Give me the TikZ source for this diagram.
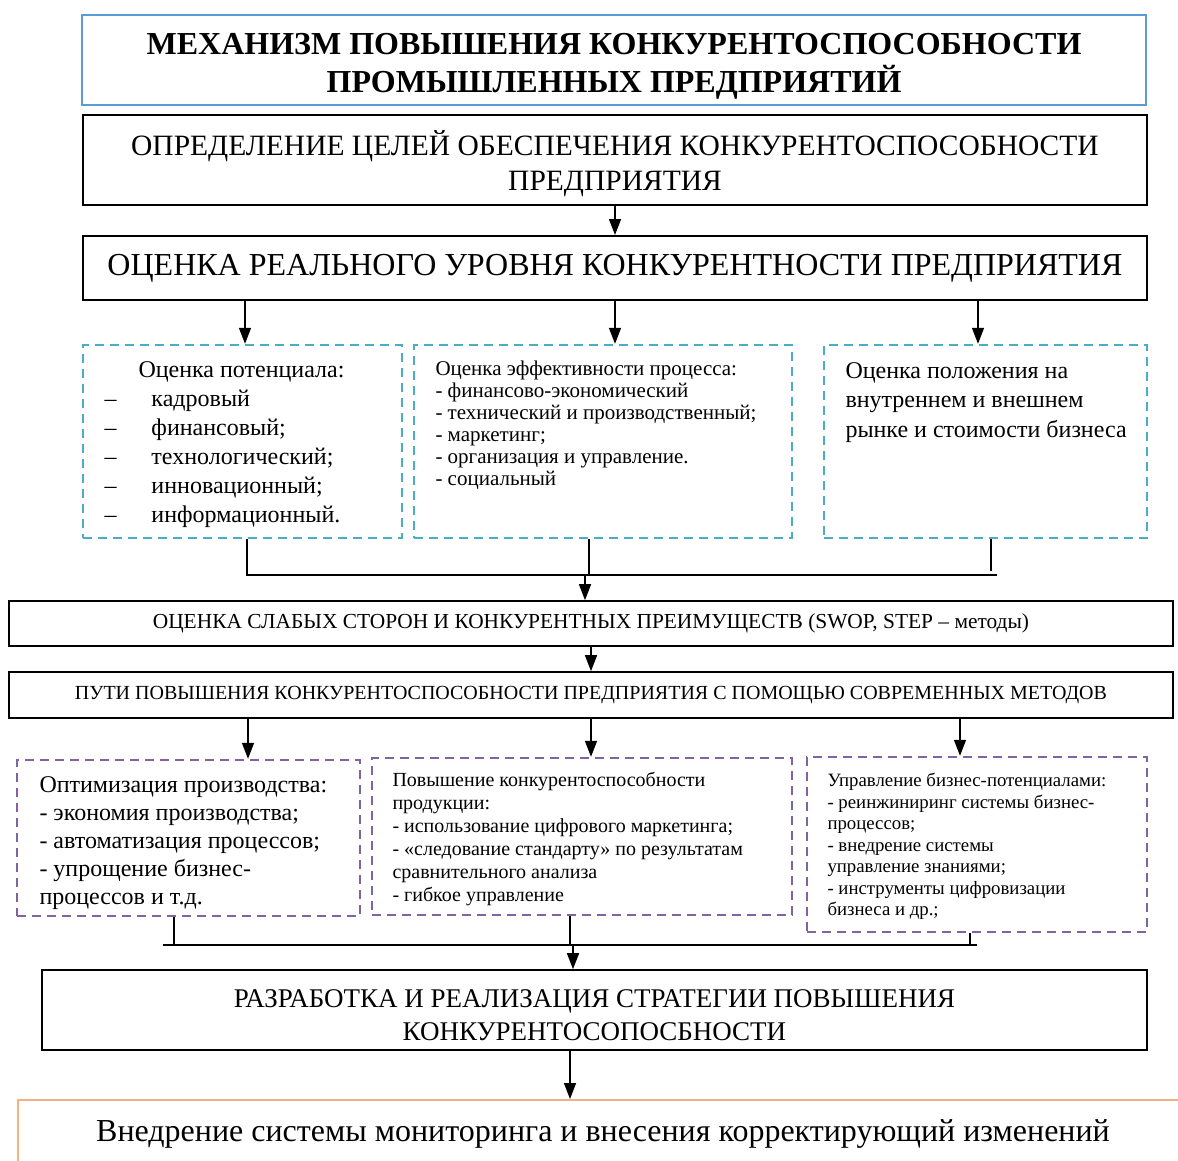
\documentclass[tikz,border=0pt]{standalone}
\usepackage{fontspec}
\setmainfont{Liberation Serif}
\usepackage{tikz}
\usetikzlibrary{positioning}
\usetikzlibrary{arrows.meta}
\definecolor{tealc}{HTML}{4BACC6}
\definecolor{purplec}{HTML}{8064A2}
\definecolor{bluec}{HTML}{5B9BD5}
\definecolor{orangec}{HTML}{F4B183}
\newcommand*{\fs}[2]{\fontsize{#1}{#2}\selectfont}

\begin{document}
\begin{tikzpicture}[x=1pt,y=-1pt,-{Triangle[width=12pt,length=16pt]},line width=1.4pt]
        \tikzset{mainbox/.style={shape=rectangle,draw,line width=2pt,align=center,inner sep=0pt}}
        \tikzset{tealbox/.style={shape=rectangle,draw=tealc,dashed,dash pattern=on 9pt off 6pt,line width=2.4pt}}
        \tikzset{purplebox/.style={shape=rectangle,draw=purplec,dashed,dash pattern=on 9pt off 6pt,line width=2.4pt}}
        \tikzset{note/.style={align=left,inner sep=0pt,anchor=north west}}

        \useasboundingbox (0,0) rectangle (1178,1160);

        \node[mainbox,draw=bluec,minimum width=1064pt,minimum height=90pt] (title) at (614,60) {};
        \node[align=center,font={\fs{32}{38}\bfseries}] (titleT) at (614,66)
            {МЕХАНИЗМ ПОВЫШЕНИЯ КОНКУРЕНТОСПОСОБНОСТИ\\ ПРОМЫШЛЕННЫХ ПРЕДПРИЯТИЙ};
        \node[mainbox,minimum width=1064pt,minimum height=90pt] (goal) at (615,160) {};
        \node[align=center,font={\fs{29.5}{35}}] (goalT) at (615,164)
            {ОПРЕДЕЛЕНИЕ ЦЕЛЕЙ ОБЕСПЕЧЕНИЯ КОНКУРЕНТОСПОСОБНОСТИ\\ ПРЕДПРИЯТИЯ};
        \node[mainbox,minimum width=1064pt,minimum height=64pt,font={\fs{32}{38}}] (level) at (615,268)
            {ОЦЕНКА РЕАЛЬНОГО УРОВНЯ КОНКУРЕНТНОСТИ ПРЕДПРИЯТИЯ};

        \node[tealbox,minimum width=319pt,minimum height=193pt] (potA) at (242.5,441.5) {};
        \node[tealbox,minimum width=378pt,minimum height=193pt] (effB) at (603,441.5) {};
        \node[tealbox,minimum width=323pt,minimum height=193pt] (posC) at (985.5,441.5) {};

        \node[note,font={\fs{24}{29}},below right=17pt and 22pt of potA.north west] (potT)
            {\hspace*{34pt}Оценка потенциала:\\
             \makebox[47pt][l]{–}кадровый\\
             \makebox[47pt][l]{–}финансовый;\\
             \makebox[47pt][l]{–}технологический;\\
             \makebox[47pt][l]{–}инновационный;\\
             \makebox[47pt][l]{–}информационный.};
        \node[note,font={\fs{21}{22}},below right=16pt and 22pt of effB.north west] (effT)
            {Оценка эффективности процесса:\\
             - финансово-экономический\\
             - технический и производственный;\\
             - маркетинг;\\
             - организация и управление.\\
             - социальный};
        \node[note,font={\fs{24}{29.5}},below right=18pt and 22pt of posC.north west] (posT)
            {Оценка положения на\\
             внутреннем и внешнем\\
             рынке и стоимости бизнеса};

        \node[mainbox,line width=1.6pt,minimum width=1164pt,minimum height=45pt,font={\fs{21.4}{24}}] (swot) at (591,623.5)
            {ОЦЕНКА СЛАБЫХ СТОРОН И КОНКУРЕНТНЫХ ПРЕИМУЩЕСТВ (SWOP, STEP – методы)};
        \node[mainbox,line width=1.6pt,minimum width=1164pt,minimum height=46pt,font={\fs{20}{24}}] (ways) at (591,695)
            {ПУТИ ПОВЫШЕНИЯ КОНКУРЕНТОСПОСОБНОСТИ ПРЕДПРИЯТИЯ С ПОМОЩЬЮ СОВРЕМЕННЫХ МЕТОДОВ};

        \node[purplebox,minimum width=343pt,minimum height=156pt] (optD) at (188.5,838) {};
        \node[purplebox,minimum width=420pt,minimum height=157pt] (prodE) at (582,836.5) {};
        \node[purplebox,minimum width=340pt,minimum height=175pt] (mgmtF) at (977,844.5) {};

        \node[note,font={\fs{24}{28}},below right=17pt and 23pt of optD.north west] (optT)
            {Оптимизация производства:\\
             - экономия производства;\\
             - автоматизация процессов;\\
             - упрощение бизнес-\\
             процессов и т.д.};
        \node[note,font={\fs{20}{23}},below right=15pt and 21pt of prodE.north west] (prodT)
            {Повышение конкурентоспособности\\
             продукции:\\
             - использование цифрового маркетинга;\\
             - «следование стандарту» по результатам\\
             сравнительного анализа\\
             - гибкое управление};
        \node[note,font={\fs{18.8}{21.5}},below right=17pt and 21pt of mgmtF.north west] (mgmtT)
            {Управление бизнес-потенциалами:\\
             - реинжиниринг системы бизнес-\\
             процессов;\\
             - внедрение системы\\
             управление знаниями;\\
             - инструменты цифровизации\\
             бизнеса и др.;};

        \node[mainbox,line width=1.6pt,minimum width=1105pt,minimum height=80pt] (strat) at (594.5,1010) {};
        \node[align=center,font={\fs{27}{33}}] (stratT) at (594.5,1015)
            {РАЗРАБОТКА И РЕАЛИЗАЦИЯ СТРАТЕГИИ ПОВЫШЕНИЯ\\ КОНКУРЕНТОСОПОСБНОСТИ};
        \node[mainbox,draw=orangec,minimum width=1172pt,minimum height=68pt,font={\fs{32}{36}}] (monit) at (604,1134)
            {\hspace*{-2pt}Внедрение системы мониторинга и внесения корректирующий изменений};

        \coordinate (jAl) at (247,575);
        \coordinate (jAr) at (997,575);
        \coordinate (jAm) at (585,575);
        \coordinate (jDl) at (163,945);
        \coordinate (jDr) at (977,945);
        \coordinate (jDm) at (573,945);

        \path (goal) edge (level);
        \path ([xshift=-370pt]level.south) edge ([xshift=-370pt]level.south |- potA.north);
        \path (level.south) edge (level.south |- effB.north);
        \path ([xshift=363pt]level.south) edge ([xshift=363pt]level.south |- posC.north);

        \draw[-] (potA.south -| jAl) -- (jAl) -- (jAr);
        \draw[-] ([xshift=-14pt]effB.south) -- ([xshift=-14pt]effB.south |- jAl);
        \draw[-] ([xshift=5.5pt]posC.south) -- ++(0,32);
        \path (jAm) edge (jAm |- swot.north);

        \path (swot.south) edge (ways.north);
        \path ([xshift=-343pt]ways.south) edge ([xshift=-343pt]ways.south |- optD.north);
        \path (ways.south) edge (ways.south |- prodE.north);
        \path ([xshift=369pt]ways.south) edge ([xshift=369pt]ways.south |- mgmtF.north);

        \draw[-] ([xshift=-14.5pt]optD.south) -- ([xshift=-14.5pt]optD.south |- jDl);
        \draw[-] ([xshift=-12pt]prodE.south) -- ([xshift=-12pt]prodE.south |- jDl);
        \draw[-] ([xshift=-7pt]mgmtF.south) -- ([xshift=-7pt]mgmtF.south |- jDr);
        \draw[-] (jDl) -- (jDr);
        \path (jDm) edge (jDm |- strat.north);

        \path ([xshift=-24.5pt]strat.south) edge ([xshift=-24.5pt]strat.south |- monit.north);
    \end{tikzpicture}
\end{document}
